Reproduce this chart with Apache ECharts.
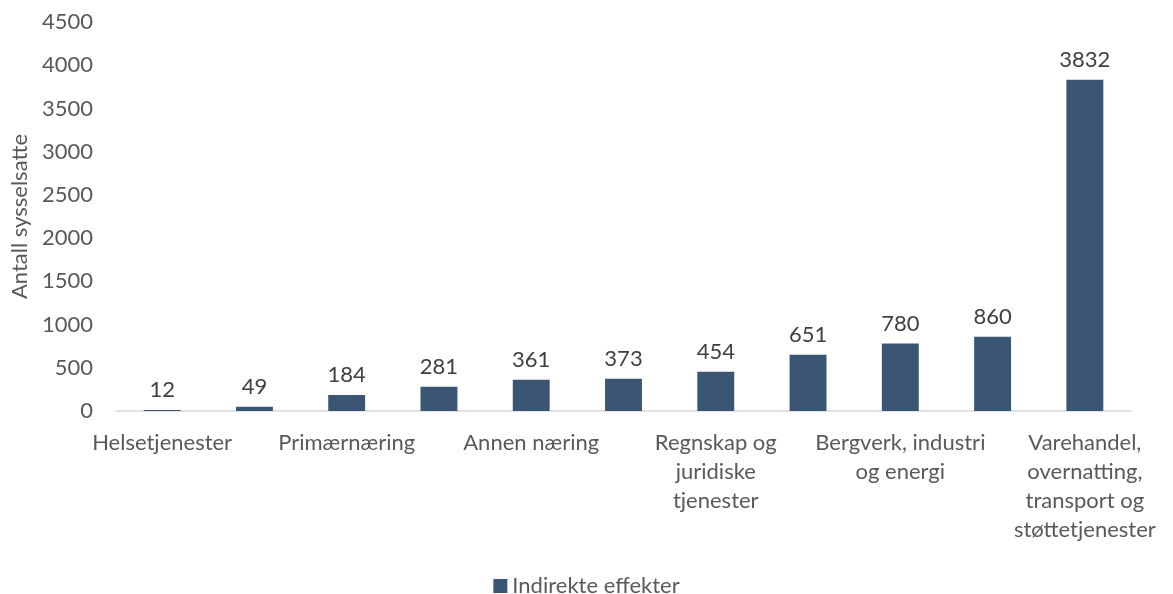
<!DOCTYPE html>
<html>
<head>
<meta charset="utf-8">
<script src="https://cdn.jsdelivr.net/npm/echarts@6/dist/echarts.min.js"></script>
<style>
  html, body { margin: 0; padding: 0; background: #fff; }
  #main { width: 1173px; height: 594px; }
</style>
</head>
<body>
<div id="main"></div>
<script>
// kategorier (bare annenhver er synlig i figuren)
var categories = [
  'Helsetjenester', '', 'Primærnæring', '', 'Annen næring', '',
  'Regnskap og\njuridiske\ntjenester', '', 'Bergverk, industri\nog energi', '',
  'Varehandel,\novernatting,\ntransport og\nstøttetjenester'
];
var indirekte = [12, 49, 184, 281, 361, 373, 454, 651, 780, 860, 3832];
var yTicks = { min: 0, max: 4500, interval: 500 };

var textColor = '#595959';
var font = 'Lato';

var myChart = echarts.init(document.getElementById('main'));
myChart.setOption({
  animation: false,
  textStyle: { fontFamily: font },
  grid: { left: 116, right: 42, top: 22, bottom: 183, containLabel: false },
  legend: {
    top: 570,
    left: 'center',
    itemWidth: 14,
    itemHeight: 14,
    itemGap: 6,
    icon: 'rect',
    textStyle: { color: textColor, fontSize: 22, fontFamily: font },
    data: ['Indirekte effekter']
  },
  xAxis: {
    type: 'category',
    data: categories,
    axisLine: { lineStyle: { color: '#d9d9d9', width: 1.5 } },
    axisTick: { show: false },
    axisLabel: {
      interval: 1,
      color: textColor,
      fontSize: 22,
      lineHeight: 29,
      margin: 17
    }
  },
  yAxis: {
    type: 'value',
    min: yTicks.min,
    max: yTicks.max,
    interval: yTicks.interval,
    name: 'Antall sysselsatte',
    nameLocation: 'middle',
    nameGap: 83,
    nameTextStyle: { color: textColor, fontSize: 22 },
    splitLine: { show: false },
    axisLine: { show: false },
    axisTick: { show: false },
    axisLabel: {
      color: textColor,
      fontSize: 22,
      margin: 23,
      formatter: function (v) { return String(v); }
    }
  },
  series: [{
    name: 'Indirekte effekter',
    type: 'bar',
    data: indirekte,
    barWidth: '40%',
    itemStyle: { color: '#3a5674' },
    label: {
      show: true,
      position: 'top',
      distance: 9,
      color: '#404040',
      fontSize: 22
    }
  }]
});
</script>
</body>
</html>
